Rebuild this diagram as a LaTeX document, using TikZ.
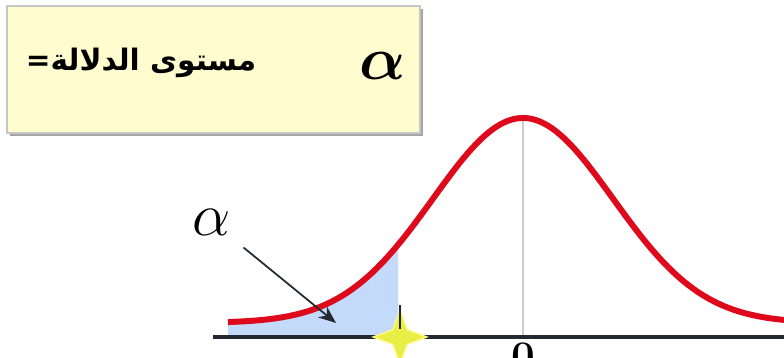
\documentclass[tikz,border=0pt]{standalone}
\usepackage{bm}
\usepackage{fontspec}
\newfontfamily\arabicfont[Script=Arabic]{DejaVu Sans}
\TeXXeTstate=1
\usetikzlibrary{shapes.geometric,arrows.meta}
\definecolor{boxyellow}{RGB}{255,252,208}
\definecolor{curvered}{RGB}{222,10,28}
\definecolor{tailblue}{RGB}{196,218,250}
\definecolor{axisdark}{RGB}{35,40,50}
\definecolor{staryellow}{RGB}{232,238,70}
\begin{document}
\begin{tikzpicture}[x=0.01cm, y=-0.01cm,
  bell/.style={curvered, line width=1.7pt},
  axisline/.style={axisdark, line width=0.9pt}]
\useasboundingbox (0,0) rectangle (784,358);
% legend box
\fill[gray!70] (10,9) rectangle (423,136);
\draw[gray!45, fill=boxyellow] (7,6) rectangle (420,133);
\node (siglabel) at (141,63) {\fontsize{8.4}{10}\selectfont\arabicfont\bfseries\beginR مستوى الدلالة=\endR};
\node (boxalpha) at (383,66) {\fontsize{16}{18}\selectfont$\bm{\alpha}$};
% tail area and curve
\fill[tailblue] (228,337) -- plot[domain=228:398, samples=50] (\x, {323-205*exp(-0.5*((\x-523)/90)*((\x-523)/90))}) -- (398,337) -- cycle;
\draw[gray!40, thin] (523,118) -- (523,337);
\draw[axisline] (213,337) -- (784,337);
\draw[bell] plot[domain=228:784, samples=140] (\x, {323-205*exp(-0.5*((\x-523)/90)*((\x-523)/90))});
\node[star, star points=4, star point ratio=0.38, shape border rotate=45, minimum size=5.8pt, inner sep=0pt, fill=staryellow, draw=yellow!50!white] (crit) at (400,337) {};
\draw[axisdark, line width=0.8pt] (crit.center) ++(0,-8) -- (400,305);
\node[anchor=north, inner sep=0pt] (zero) at (523,342) {\fontsize{12}{14}\selectfont\bfseries 0};
% alpha pointer
\node (lowalpha) at (212,222) {\fontsize{18}{20}\selectfont$\alpha$};
\coordinate (tailpt) at (336,323);
\draw[axisdark, line width=0.5pt, -{Stealth[length=5pt,width=4pt]}] (lowalpha.south east) -- (tailpt);
\end{tikzpicture}
\end{document}
